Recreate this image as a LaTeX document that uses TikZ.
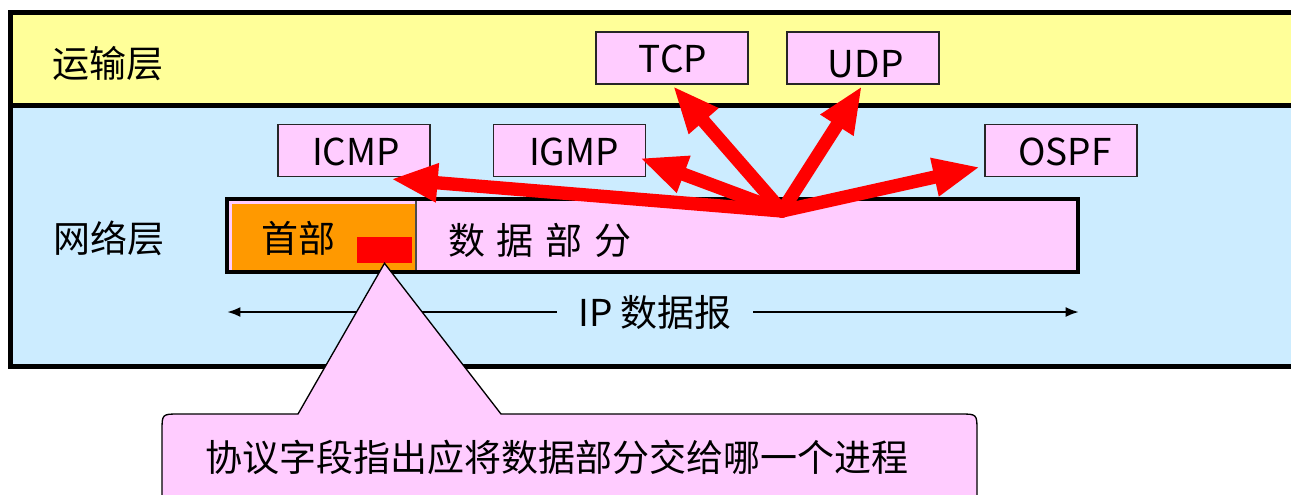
\documentclass[tikz,border=0pt]{standalone}
\usepackage{fontspec}
\setmainfont{Noto Sans CJK SC}
\usetikzlibrary{arrows.meta}
\definecolor{ylw}{HTML}{FFFF99}
\definecolor{lblue}{HTML}{CCECFF}
\definecolor{pinkf}{HTML}{FFCCFF}
\definecolor{orng}{HTML}{FF9900}
\begin{document}
\begin{tikzpicture}[x=0.75pt,y=-0.75pt,
  font=\fontsize{27.75pt}{32pt}\selectfont,
  pbox/.style={draw=black!85, line width=1.3pt, fill=pinkf, minimum width=114pt, minimum height=39pt, inner sep=0pt},
  lbl/.style={inner sep=0pt},
  redarrow/.style={draw=red, line width=10pt, line cap=round, -{Triangle[length=35pt,width=27pt]}},
  iparrow/.style={line width=1.8pt, -{Latex[length=10pt,width=7.5pt]}},
  callout/.style={fill=pinkf, draw=black, line width=1pt},
  frameline/.style={line width=3.75pt}]
\useasboundingbox (0,0) rectangle (1291,494);
\clip (0,0) rectangle (1291,494);
% layers
\fill[ylw] (10,12) rectangle (1300,105);
\fill[lblue] (10,105) rectangle (1300,366);
\draw[frameline] (1300,12) -- (10,12) -- (10,366) -- (1300,366);
\draw[frameline] (10,105) -- (1300,105);
\node[lbl] (tl) at (108,64) {运输层};
\node[lbl] (nl) at (109,238) {网络层};
% protocol boxes
\node[pbox, label={[lbl, xshift=0.8pt, yshift=-1pt]center:TCP}] (tcp) at (672,58) {};
\node[pbox, label={[lbl, xshift=2pt, yshift=-5pt]center:UDP}] (udp) at (863,58) {};
\node[pbox, label={[lbl, xshift=1.5pt, yshift=-1pt]center:ICMP}] (icmp) at (354,150.5) {};
\node[pbox, label={[lbl, xshift=3.4pt, yshift=-1pt]center:IGMP}] (igmp) at (569.5,150.5) {};
\node[pbox, label={[lbl, xshift=3pt, yshift=-1pt]center:OSPF}] (ospf) at (1061,150.5) {};
% datagram
\fill[pinkf] (229,201) rectangle (1076,270);
\fill[orng] (232,204) rectangle (416,270);
\draw[black!70, line width=0.8pt] (416,201) -- (416,270);
\draw[line width=3pt] (227,199) rectangle (1078,272);
\node[lbl] (hdr) at (298,238) {首部};
\node[lbl] (data) at (540,240) {数\hspace{9pt}据\hspace{9pt}部\hspace{9pt}分};
\node[fill=red, inner sep=0pt, minimum width=41.25pt, minimum height=19.5pt] (proto) at (384.5,250) {};
% red arrows
\coordinate (O) at (782,211);
\coordinate (tTCP) at (673,86);
\coordinate (tUDP) at (862,86);
\coordinate (tOSPF) at (980,167);
\coordinate (tIGMP) at (640,158);
\coordinate (tICMP) at (391,179);
\draw[redarrow] (O) -- (tICMP);
\draw[redarrow] (O) -- (tIGMP);
\draw[redarrow] (O) -- (tOSPF);
\draw[redarrow] (O) -- (tTCP);
\draw[redarrow] (O) -- (tUDP);
% IP datagram span
\node[lbl, inner xsep=16pt] (ip) at (655,312) {IP 数据报};
\coordinate (ipL) at (227,312);
\coordinate (ipR) at (1079,312);
\draw[iparrow] (ip.west) -- (ipL);
\draw[iparrow] (ip.east) -- (ipR);
% callout
\draw[callout] (298,414) -- (proto.south) -- (501,414) -- (960,414) .. controls (977,414) .. (977,431) -- (977,540) -- (162,540) -- (162,431) .. controls (162,414) .. (179,414) -- cycle;
\node[lbl] (ctext) at (557,457) {协议字段指出应将数据部分交给哪一个进程};
\end{tikzpicture}
\end{document}
